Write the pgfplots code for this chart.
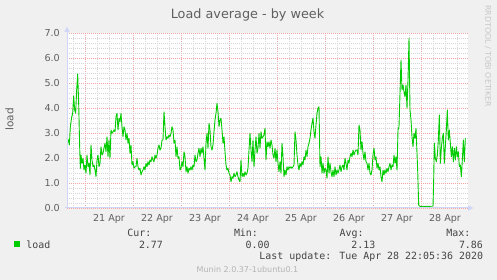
\documentclass[border=0pt]{standalone}
\usepackage{pgfplots}
\usepackage{pgfplotstable}
\pgfplotsset{compat=1.18}
\usepackage{fontspec}
\setmainfont{DejaVu Sans}
\newfontfamily\monofont{DejaVu Sans Mono}
\definecolor{bgc}{HTML}{F0F0F0}
\definecolor{fontc}{HTML}{606060}
\definecolor{legc}{HTML}{444444}
\definecolor{axisc}{HTML}{CFD6F8}
\definecolor{gridc}{HTML}{D6D6D6}
\definecolor{mgridc}{HTML}{F2A6A6}
\definecolor{loadc}{HTML}{00CC00}
\definecolor{wmc}{HTML}{C8C8C8}
\definecolor{footc}{HTML}{B4B4B4}

\pgfplotstableread{
x y
67 2.79
68.33 2.72
69.33 2.52
70.33 3.25
71.67 3.63
72.67 3.79
73.67 4.48
74.67 3.92
75.67 3.79
76.67 4.72
77.67 5.36
78.67 4.19
79.67 2.45
80.33 1.59
81 2.12
82 1.79
83 1.99
84 1.52
85 1.72
86 1.39
87 2.12
88 1.65
89 1.79
90 1.32
91 2.52
92 1.92
93 1.65
94 1.72
95 1.52
96 1.25
97 1.92
98 2.12
99 1.65
100 1.79
101 2.45
102 2.12
103 2.19
104 2.39
105 2.59
106 2.25
107 2.85
108 2.05
109 2.72
110 1.99
111 3.12
112 2.99
113 3.05
114 3.12
115 3.05
116 3.65
117 3.79
118 3.12
119 3.59
120 3.45
121 3.79
122 3.25
123 2.85
124 3.25
125 3.12
126 2.72
127 2.99
128 2.59
129 2.79
130 2.19
131 2.52
132 1.72
133 1.85
134 1.59
135 1.65
136 1.65
137 1.99
138 1.65
139 1.52
140 1.59
141 1.32
142 1.45
143 1.52
144 1.65
145 1.52
146 1.79
147 1.65
148 1.85
149 1.72
150 1.92
151 1.85
152 2.05
153 1.92
154 1.85
155 2.12
156 1.99
157 2.12
158 2.39
159 2.52
160 2.32
161 2.39
162 2.72
163 2.72
164 3.85
165 3.25
166 2.72
167 2.85
168 2.79
169 2.92
170 2.85
171 2.99
172 3.25
173 3.12
174 2.59
175 2.72
176 2.05
177 2.45
178 1.99
179 2.05
180 1.52
181 1.59
182 1.85
183 1.65
184 2.25
185 2.05
186 1.45
187 1.65
188 1.39
189 1.59
190 1.52
191 1.65
192 1.52
193 1.72
194 1.65
195 2.12
196 1.85
197 1.92
198 2.19
199 2.39
200 2.05
201 2.39
202 2.19
203 2.45
204 1.99
205 1.52
206 2.59
207 2.99
208 2.39
209 3.39
210 3.12
211 2.45
212 2.32
213 2.52
214 3.05
215 3.52
216 3.79
217 4.19
218 3.85
219 3.25
220 3.52
221 3.59
222 3.12
223 2.59
224 2.85
225 2.25
226 1.72
227 1.52
228 1.59
229 1.39
230 1.32
231 1.05
232 1.25
233 1.19
234 1.39
235 1.25
236 1.32
237 1.45
238 1.25
239 1.12
240 1.05
241 1.92
242 1.25
243 1.39
244 1.25
245 1.45
246 1.32
247 1.39
248 1.59
249 2.32
250 2.99
251 2.32
252 1.85
253 2.72
254 1.65
255 2.32
256 2.85
257 2.19
258 2.39
259 2.99
260 2.39
261 3.05
262 2.79
263 2.85
264 2.92
265 3.19
266 1.92
267 2.65
268 2.45
269 2.65
270 2.39
271 2.72
272 2.52
273 2.12
274 1.99
275 2.39
276 1.85
277 2.32
278 1.79
279 1.45
280 1.85
281 1.39
282 2.59
283 2.05
284 1.25
285 1.52
286 1.32
287 1.65
288 1.52
289 1.65
290 1.59
291 1.65
292 1.59
293 1.65
294 1.72
295 3.05
296 2.72
297 2.12
298 1.72
299 1.52
300 1.79
301 1.65
302 1.85
303 1.72
304 2.05
305 1.92
306 2.32
307 2.05
308 2.45
309 2.59
310 2.79
311 3.12
312 3.39
313 3.59
314 3.05
315 2.79
316 3.32
317 3.79
318 3.99
319 4.05
320 1.65
321 2.05
322 1.39
323 1.79
324 1.39
325 1.59
326 1.52
327 1.19
328 2.05
329 1.39
330 1.79
331 1.45
332 1.25
333 1.52
334 1.25
335 1.65
336 1.32
337 1.52
338 1.39
339 1.52
340 1.72
341 1.45
342 1.65
343 1.72
344 1.52
345 1.99
346 1.79
347 1.52
348 1.92
349 1.79
350 2.05
351 2.19
352 2.05
353 2.32
354 2.12
355 2.25
356 2.32
357 2.32
358 2.12
359 3.32
360 3.12
361 2.32
362 2.65
363 2.19
364 1.92
365 2.25
366 1.85
367 1.79
368 1.52
369 1.79
370 1.39
371 1.32
372 1.52
373 2.12
374 2.39
375 1.92
376 2.05
377 1.59
378 1.79
379 1.52
380 1.65
381 1.25
382 1.05
383 1.52
384 1.32
385 1.52
386 1.39
387 1.59
388 1.45
389 1.65
390 1.79
391 1.52
392 1.72
393 1.65
394 2.12
395 1.79
396 2.05
397 1.52
398 3.12
399 3.25
400 4.59
401 5.92
402 4.72
403 4.92
404 4.65
405 4.45
406 4.92
407 3.99
408 5.12
409 6.79
410 3.92
411 3.52
412 2.85
413 2.45
414 2.99
415 2.79
416 3.19
417 2.19
417.67 1.52
418.67 0.12
419.67 0.07
421 0.06
423 0.07
425 0.06
427 0.07
429 0.06
431 0.07
433 0.07
433.67 1.12
434.33 2.59
435.33 1.99
436.33 1.85
437.33 2.12
438.33 2.72
439.33 3.72
440.33 1.79
441.33 2.39
442.33 2.79
443.33 2.99
444.33 1.79
445.33 2.45
446.33 3.12
447.33 3.92
448.33 2.72
449.33 3.12
450.33 2.59
451.33 2.05
452.33 2.45
453.33 1.85
454.33 2.39
455.33 1.92
456.33 2.45
457.33 2.05
458.33 2.25
459.33 1.65
460.33 1.72
461.33 1.25
462.33 1.92
463.33 2.72
464.33 1.85
465.33 2.79
}\loaddata

\begin{document}
\begin{tikzpicture}[x=1pt,y=1pt]
\fill[bgc] (0,0) rectangle (497,280);
\path[use as bounding box] (0,0) rectangle (497,280);
\begin{axis}[
  at={(67pt,72pt)}, anchor=south west,
  scale only axis, width=401pt, height=175pt,
  xmin=67, xmax=468, ymin=0, ymax=7,
  axis x line*=bottom, axis y line*=left,
  axis line style={draw=none},
  axis background/.style={fill=white},
  xtick={85,133,181,229,277,325,373,421},
  xticklabels={21 Apr,22 Apr,23 Apr,24 Apr,25 Apr,26 Apr,27 Apr,28 Apr},
  xticklabel style={font=\fontsize{9.6}{11}\selectfont, text=fontc, anchor=north, inner sep=0pt, xshift=24pt, yshift=-6pt},
  minor xtick={73,97,109,121,145,157,169,193,205,217,241,253,265,289,301,313,337,349,361,385,397,409,433,445,457},
  ytick={0,1,2,3,4,5,6,7},
  yticklabels={0.0,1.0,2.0,3.0,4.0,5.0,6.0,7.0},
  yticklabel style={font=\fontsize{9.6}{11}\selectfont, text=fontc, anchor=east, inner sep=0pt, xshift=-7pt},
  minor y tick num=4,
  grid=both,
  major grid style={draw=mgridc, line width=0.7pt, dash pattern=on 1pt off 1pt},
  minor grid style={draw=gridc, line width=0.7pt, dash pattern=on 1pt off 1pt},
  tick style={draw=none},
  clip=false,
]
\addplot[loadc, line width=0.9pt, line join=round] table[x=x,y=y] {\loaddata};
\end{axis}
% axis lines with arrows (picture coordinates: x = px, y = 72 + 25*value)
\draw[axisc, line width=1pt] (65,72) -- (469,72);
\fill[axisc] (473.5,72) -- (468,74.7) -- (468,69.3) -- cycle;
\draw[axisc, line width=1pt] (67,72) -- (67,249);
\fill[axisc] (67,253.5) -- (64.3,248) -- (69.7,248) -- cycle;
% title
\node[anchor=base, inner sep=0pt, font=\fontsize{12.8}{15}\selectfont, text=fontc] at (247.5,261.7) {Load average - by week};
% y label
\node[rotate=90, inner sep=0pt, font=\fontsize{10.5}{12}\selectfont, text=fontc] at (9.5,160.5) {load};
% watermark
\node[rotate=-90, inner sep=0pt, font=\fontsize{7.9}{9}\selectfont, text=wmc] at (488,224) {RRDTOOL / TOBI OETIKER};
% legend
\begin{scope}[every node/.style={inner sep=0pt, font=\monofont\fontsize{9.95}{12}\selectfont, text=legc}]
\node[anchor=base west] at (127.2,43.3) {Cur:};
\node[anchor=base west] at (233.8,43.3) {Min:};
\node[anchor=base west] at (339.5,43.3) {Avg:};
\node[anchor=base west] at (446.2,43.3) {Max:};
\node[anchor=base west] at (26.2,31.7) {load};
\node[anchor=base west] at (138.8,31.7) {2.77};
\node[anchor=base west] at (245.5,31.7) {0.00};
\node[anchor=base west] at (351.2,31.7) {2.13};
\node[anchor=base west] at (458.8,31.7) {7.86};
\node[anchor=base east] at (483.3,20) {Last update: Tue Apr 28 22:05:36 2020};
\end{scope}
\fill[loadc] (14,33) rectangle (20,39);
% footer
\node[anchor=base, inner sep=0pt, font=\fontsize{8}{9}\selectfont, text=footc] at (247.5,7.3) {Munin 2.0.37-1ubuntu0.1};
\end{tikzpicture}
\end{document}
